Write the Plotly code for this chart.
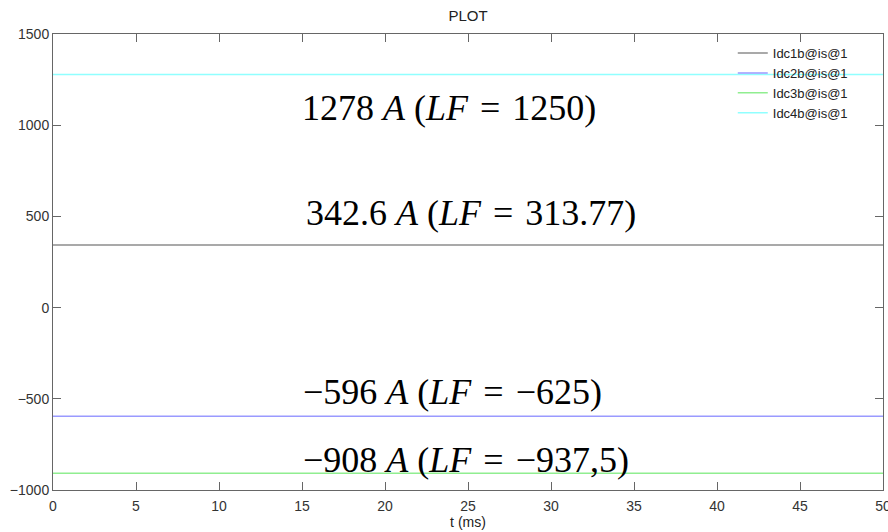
import plotly.graph_objects as go

t_ms = [0, 50]
series_names = ["Idc1b@is@1", "Idc2b@is@1", "Idc3b@is@1", "Idc4b@is@1"]
series_values = [342.6, -596, -908, 1278]
series_colors = ["#8c8c8c", "#9a9aff", "#90ee90", "#90ffff"]

SP = " \u200a"
ann_texts = [
    f"1278 <i>A</i> (<i>LF</i>{SP}={SP}1250)",
    f"342.6 <i>A</i> (<i>LF</i>{SP}={SP}313.77)",
    f"\u2212596 <i>A</i> (<i>LF</i>{SP}={SP}\u2212625)",
    f"\u2212908 <i>A</i> (<i>LF</i>{SP}={SP}\u2212937,5)",
]
ann_x = [23.85, 25.2, 24.06, 24.9]
ann_y = [1094, 519, -460, -838]

x_ticks = [0, 5, 10, 15, 20, 25, 30, 35, 40, 45, 50]
y_ticks = [-1000, -500, 0, 500, 1000, 1500]

fig = go.Figure()
for name, val, col in zip(series_names, series_values, series_colors):
    fig.add_trace(go.Scatter(x=t_ms, y=[val, val], mode="lines", name=name,
                             line=dict(color=col, width=1.5)))

for txt, x, y in zip(ann_texts, ann_x, ann_y):
    fig.add_annotation(x=x, y=y, text=txt, showarrow=False,
                       font=dict(family="Liberation Serif, DejaVu Serif, serif", size=36, color="#000"))

FONT = "Arial, Liberation Sans, sans-serif"
axis_common = dict(showline=True, mirror="ticks", linecolor="#666", linewidth=1,
                   ticks="inside", ticklen=8, tickcolor="#666", showgrid=False,
                   zeroline=False, automargin=False, ticklabeloverflow="allow",
                   tickfont=dict(family=FONT, size=14, color="#333"))

fig.update_layout(
    width=888, height=532,
    margin=dict(l=53, r=5, t=34, b=42),
    paper_bgcolor="white", plot_bgcolor="white",
    title=dict(text="PLOT", x=0.5, xref="paper", y=0.97, yanchor="middle",
               font=dict(family=FONT, size=15, color="#222")),
    xaxis=dict(range=[0, 50], tickvals=x_ticks, ticklabelstandoff=3,
               title=dict(text="t (ms)", standoff=4,
                          font=dict(family=FONT, size=14, color="#222")), **axis_common),
    yaxis=dict(range=[-1000, 1500], tickvals=y_ticks, **axis_common),
    legend=dict(x=0.819, y=0.991, xanchor="left", yanchor="top", bgcolor="rgba(255,255,255,0)",
                font=dict(family=FONT, size=13, color="#222"),
                tracegroupgap=0, itemwidth=30),
    showlegend=True,
)

fig.write_html("out.html", config={"displayModeBar": False},
               post_script="document.body.style.margin='0';document.body.style.overflow='hidden';")
